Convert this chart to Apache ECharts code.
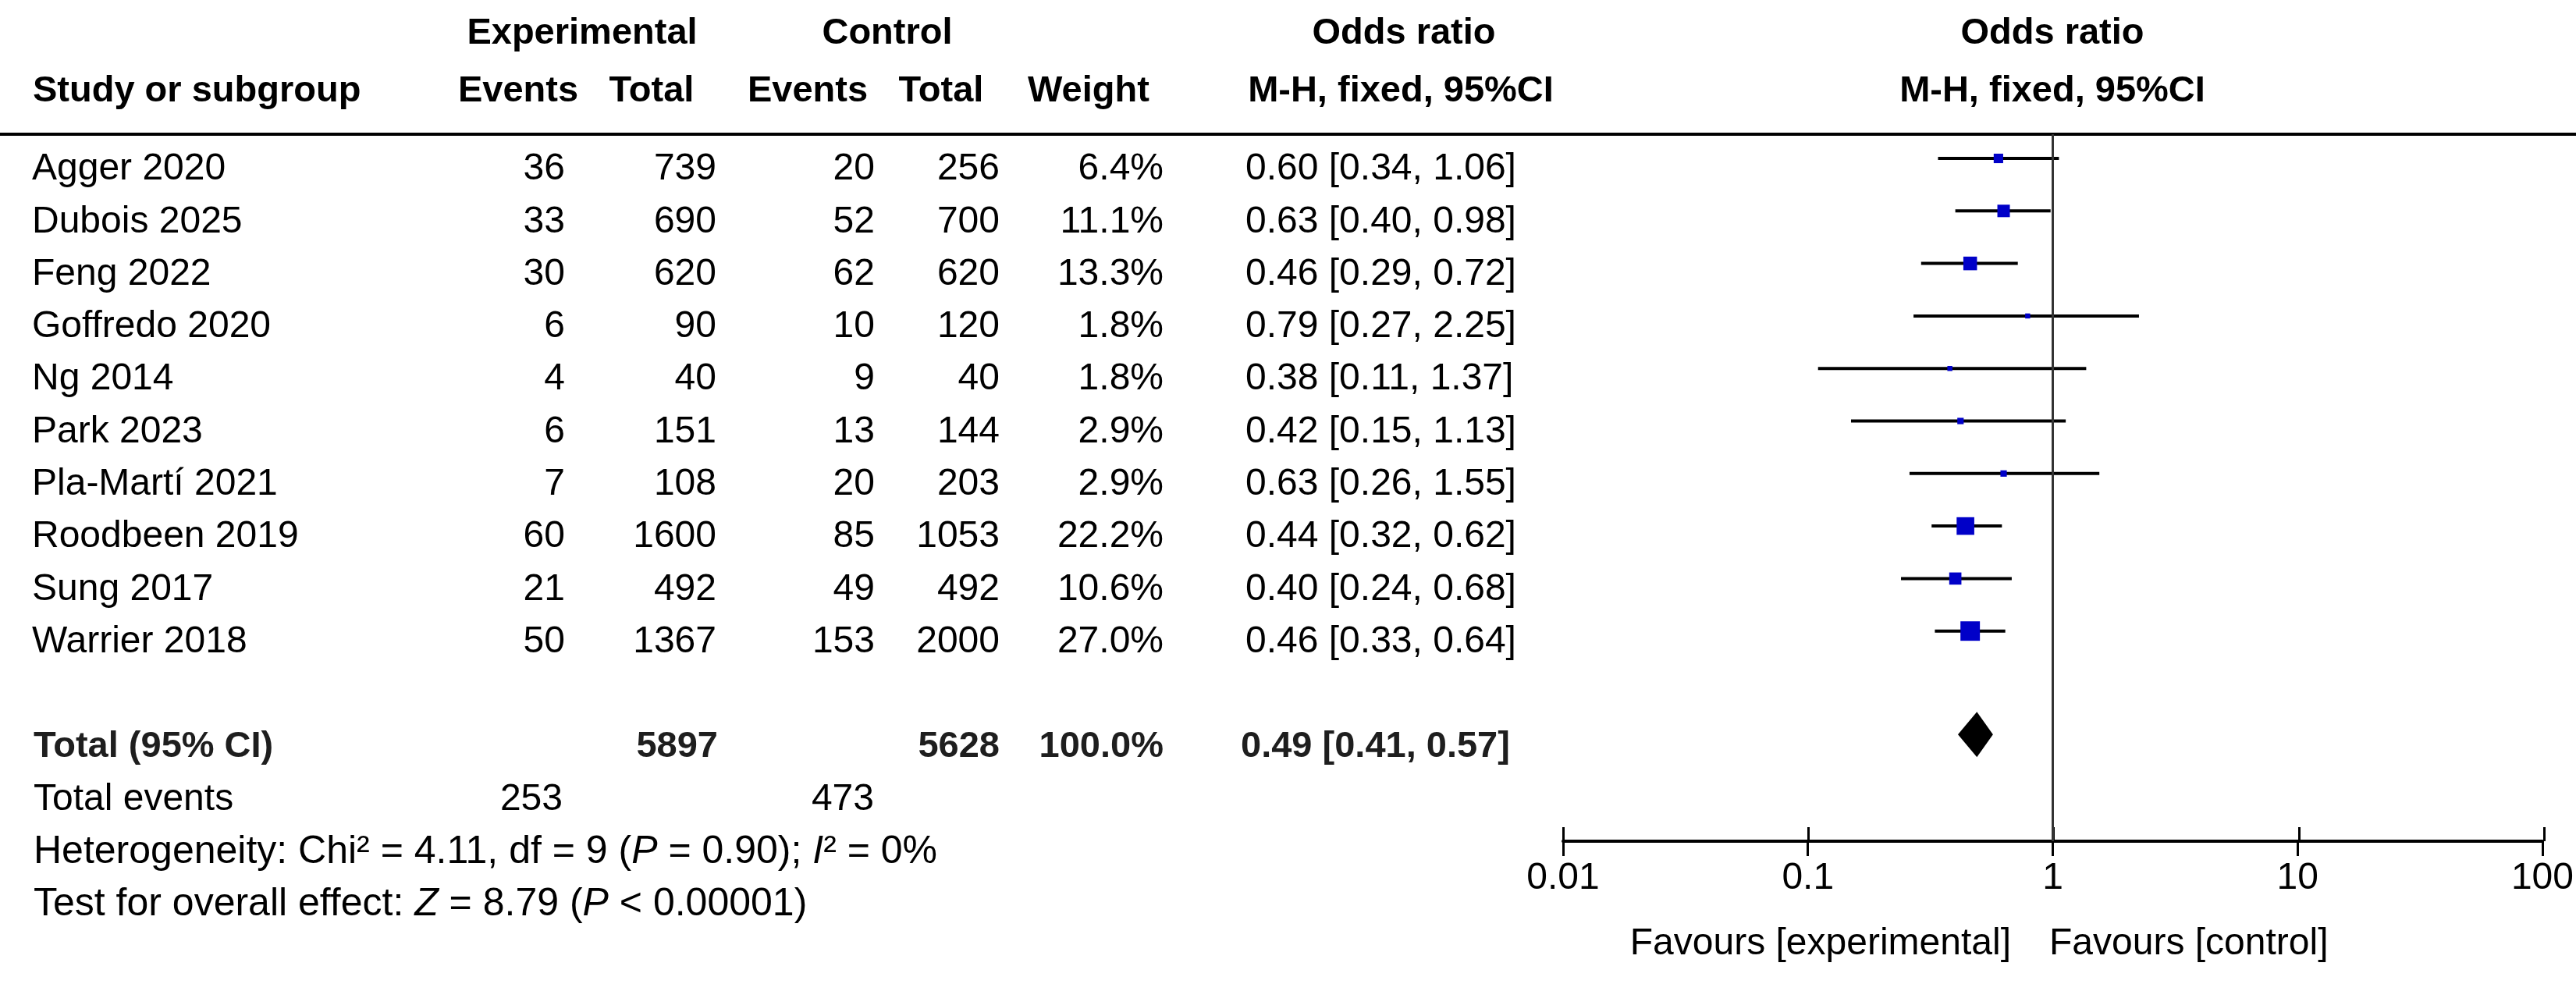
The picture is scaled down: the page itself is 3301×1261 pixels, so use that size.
<!DOCTYPE html>
<html>
<head>
<meta charset="utf-8">
<script src="https://cdn.jsdelivr.net/npm/echarts@6/dist/echarts.min.js"></script>
<style>
html,body{margin:0;padding:0;background:#fff;}
#chart{width:3301px;height:1261px;}
</style>
</head>
<body>
<div id="chart"></div>
<script>
// ---------------- data ----------------
const studies = ['Agger 2020','Dubois 2025','Feng 2022','Goffredo 2020','Ng 2014','Park 2023','Pla-Martí 2021','Roodbeen 2019','Sung 2017','Warrier 2018'];
const expEvents = [36,33,30,6,4,6,7,60,21,50];
const expTotal = [739,690,620,90,40,151,108,1600,492,1367];
const ctrlEvents = [20,52,62,10,9,13,20,85,49,153];
const ctrlTotal = [256,700,620,120,40,144,203,1053,492,2000];
const weights = [6.4,11.1,13.3,1.8,1.8,2.9,2.9,22.2,10.6,27.0];
const orValues = [0.60,0.63,0.46,0.79,0.38,0.42,0.63,0.44,0.40,0.46];
const ciLow = [0.34,0.40,0.29,0.27,0.11,0.15,0.26,0.32,0.24,0.33];
const ciHigh = [1.06,0.98,0.72,2.25,1.37,1.13,1.55,0.62,0.68,0.64];
const totalLabel = 'Total (95% CI)';
const totalExp = 5897;
const totalCtrl = 5628;
const totalWeight = 100.0;
const totalOR = [0.49, 0.41, 0.57];
const totalEventsLabel = 'Total events';
const totalEvents = [253, 473];
const footerLines = [
  'Heterogeneity: Chi² = 4.11, df = 9 ({i|P} = 0.90); {i|I}² = 0%',
  'Test for overall effect: {i|Z} = 8.79 ({i|P} < 0.00001)'
];
const tickLabels = ['0.01','0.1','1','10','100'];
const favours = ['Favours [experimental]','Favours [control]'];

// ---------------- layout ----------------
const W = 3301, H = 1261;
const ROW0 = 217, ROWH = 67.3;          // centre of first text row, row pitch
const FOREST_TOP = 172, AXIS_Y = 1078;
const FOREST_LEFT = 2003, FOREST_RIGHT = 3260;
const MARK_OFF = 14, DIAM_OFF = 16, DIAM_HALF = 29;
const FF = '"Liberation Sans", Arial, sans-serif';
const FONT = '48px ' + FF;
const FOOT_FONT = '50px ' + FF;
const BFONT = 'bold 47px ' + FF;
const TOTAL_ROW = 11, EVENTS_ROW = 12, FOOT_ROW = 13;

const fmt2 = v => v.toFixed(2);
const orText = (o,l,h) => fmt2(o) + ' [' + fmt2(l) + ', ' + fmt2(h) + ']';

const chart = echarts.init(document.getElementById('chart'), null, {renderer:'canvas', width:W, height:H});

function textSeries(x, rows, texts, align, font, fill, rich) {
  return {
    type: 'custom', xAxisIndex: 2, yAxisIndex: 1, silent: true,
    data: rows.map(r => [x, r]),
    renderItem: function (params, api) {
      const p = api.coord([api.value(0), api.value(1)]);
      const st = {text: String(texts[params.dataIndex]), x: p[0], y: p[1], align: align,
                  verticalAlign: 'middle', font: font, fill: fill || '#000'};
      if (rich) st.rich = rich;
      return {type: 'text', style: st};
    }
  };
}

const studyRows = studies.map((s, i) => i);
const richItalic = {i: {fontStyle: 'italic', fontSize: 50, fontFamily: FF, fill: '#000'}};

const series = [
  // forest plot: CI lines + weighted squares
  {
    type: 'custom', xAxisIndex: 0, yAxisIndex: 0, silent: true,
    data: orValues.map((o, i) => [o, ciLow[i], ciHigh[i], weights[i], i]),
    renderItem: function (params, api) {
      const row = api.value(4);
      const pc = api.coord([api.value(0), row]);
      const pl = api.coord([api.value(1), row]);
      const ph = api.coord([api.value(2), row]);
      const y = pc[1] - MARK_OFF;
      const side = 4.8 * Math.sqrt(api.value(3));
      return {type: 'group', children: [
        {type: 'line', shape: {x1: pl[0], y1: y, x2: ph[0], y2: y}, style: {stroke: '#000', lineWidth: 4}},
        {type: 'rect', shape: {x: pc[0] - side / 2, y: y - side / 2, width: side, height: side}, style: {fill: '#0000c8'}}
      ]};
    },
    markLine: {
      silent: true, symbol: ['none', 'none'], label: {show: false},
      lineStyle: {color: '#333', width: 3, type: 'solid'},
      data: [{xAxis: 1}]
    }
  },
  // pooled diamond
  {
    type: 'custom', xAxisIndex: 0, yAxisIndex: 0, silent: true,
    data: [[totalOR[0], totalOR[1], totalOR[2], TOTAL_ROW]],
    renderItem: function (params, api) {
      const row = api.value(3);
      const pc = api.coord([api.value(0), row]);
      const pl = api.coord([api.value(1), row]);
      const ph = api.coord([api.value(2), row]);
      const y = pc[1] - DIAM_OFF;
      return {type: 'polygon', shape: {points: [[pl[0], y], [pc[0], y - DIAM_HALF], [ph[0], y], [pc[0], y + DIAM_HALF]]},
              style: {fill: '#000'}};
    }
  },
  // table columns
  textSeries(41, studyRows, studies, 'left', FONT),
  textSeries(724, studyRows, expEvents, 'right', FONT),
  textSeries(918, studyRows, expTotal, 'right', FONT),
  textSeries(1121, studyRows, ctrlEvents, 'right', FONT),
  textSeries(1281, studyRows, ctrlTotal, 'right', FONT),
  textSeries(1491, studyRows, weights.map(w => w.toFixed(1) + '%'), 'right', FONT),
  textSeries(1596, studyRows, orValues.map((o, i) => orText(o, ciLow[i], ciHigh[i])), 'left', FONT),
  // total row
  textSeries(43, [TOTAL_ROW], [totalLabel], 'left', BFONT, '#1e1e1e'),
  textSeries(920, [TOTAL_ROW], [totalExp], 'right', BFONT, '#1e1e1e'),
  textSeries(1281, [TOTAL_ROW], [totalCtrl], 'right', BFONT, '#1e1e1e'),
  textSeries(1491, [TOTAL_ROW], [totalWeight.toFixed(1) + '%'], 'right', BFONT, '#1e1e1e'),
  textSeries(1590, [TOTAL_ROW], [orText(totalOR[0], totalOR[1], totalOR[2])], 'left', BFONT, '#1e1e1e'),
  // total events
  textSeries(43, [EVENTS_ROW], [totalEventsLabel], 'left', FONT),
  textSeries(721, [EVENTS_ROW], [totalEvents[0]], 'right', FONT),
  textSeries(1120, [EVENTS_ROW], [totalEvents[1]], 'right', FONT),
  // footer
  textSeries(43, [FOOT_ROW, FOOT_ROW + 1], footerLines, 'left', FOOT_FONT, '#000', richItalic)
];

function hdr(text, x, y, align) {
  return {type: 'text', silent: true, style: {text: text, x: x, y: y, align: align || 'center', verticalAlign: 'middle', font: BFONT, fill: '#000'}};
}

const forestGrid = {left: FOREST_LEFT, right: W - FOREST_RIGHT, top: FOREST_TOP, bottom: H - AXIS_Y, containLabel: false};

const option = {
  backgroundColor: '#fff',
  animation: false,
  grid: [
    forestGrid,
    {left: 0, right: 0, top: 0, bottom: 0, containLabel: false},
    Object.assign({}, forestGrid)   // twin of the forest grid, carries the upward half of the ticks
  ],
  xAxis: [
    {type: 'log', logBase: 10, min: 0.01, max: 100, gridIndex: 0, position: 'bottom',
     axisLine: {show: true, onZero: false, lineStyle: {color: '#000', width: 4}},
     axisTick: {show: true, length: 19, lineStyle: {color: '#000', width: 3}},
     axisLabel: {show: true, margin: 24, fontSize: 48, fontFamily: FF, color: '#000',
                 showMinLabel: true, showMaxLabel: true,
                 formatter: v => tickLabels[Math.round(Math.log10(v)) + 2]},
     splitLine: {show: false}, minorTick: {show: false}},
    {type: 'log', logBase: 10, min: 0.01, max: 100, gridIndex: 2, position: 'bottom',
     axisLine: {show: false, onZero: false},
     axisTick: {show: true, inside: true, length: 18, lineStyle: {color: '#000', width: 3}},
     axisLabel: {show: false}, splitLine: {show: false}, minorTick: {show: false}},
    {type: 'value', min: 0, max: W, gridIndex: 1, show: false, axisLine: {onZero: false}}
  ],
  yAxis: [
    {type: 'value', gridIndex: 0, inverse: true, show: false, axisLine: {onZero: false},
     min: (FOREST_TOP - ROW0) / ROWH, max: (AXIS_Y - ROW0) / ROWH},
    {type: 'value', gridIndex: 1, inverse: true, show: false, axisLine: {onZero: false},
     min: -ROW0 / ROWH, max: (H - ROW0) / ROWH},
    {type: 'value', gridIndex: 2, show: false, min: 0, max: 1, axisLine: {onZero: false}}
  ],
  graphic: [
    hdr('Experimental', 746, 43),
    hdr('Control', 1137, 43),
    hdr('Odds ratio', 1799, 43),
    hdr('Odds ratio', 2630, 43),
    hdr('Study or subgroup', 42, 117, 'left'),
    hdr('Events', 664, 117),
    hdr('Total', 835, 117),
    hdr('Events', 1035, 117),
    hdr('Total', 1206, 117),
    hdr('Weight', 1395, 117),
    hdr('M-H, fixed, 95%CI', 1795, 117),
    hdr('M-H, fixed, 95%CI', 2630, 117),
    {type: 'line', silent: true, shape: {x1: 0, y1: FOREST_TOP, x2: W, y2: FOREST_TOP}, style: {stroke: '#000', lineWidth: 4}},
    {type: 'text', silent: true, style: {text: favours[0], x: 2577, y: 1210, align: 'right', verticalAlign: 'middle', font: FONT, fill: '#000'}},
    {type: 'text', silent: true, style: {text: favours[1], x: 2626, y: 1210, align: 'left', verticalAlign: 'middle', font: FONT, fill: '#000'}}
  ],
  series: series
};
chart.setOption(option);
</script>
</body>
</html>
